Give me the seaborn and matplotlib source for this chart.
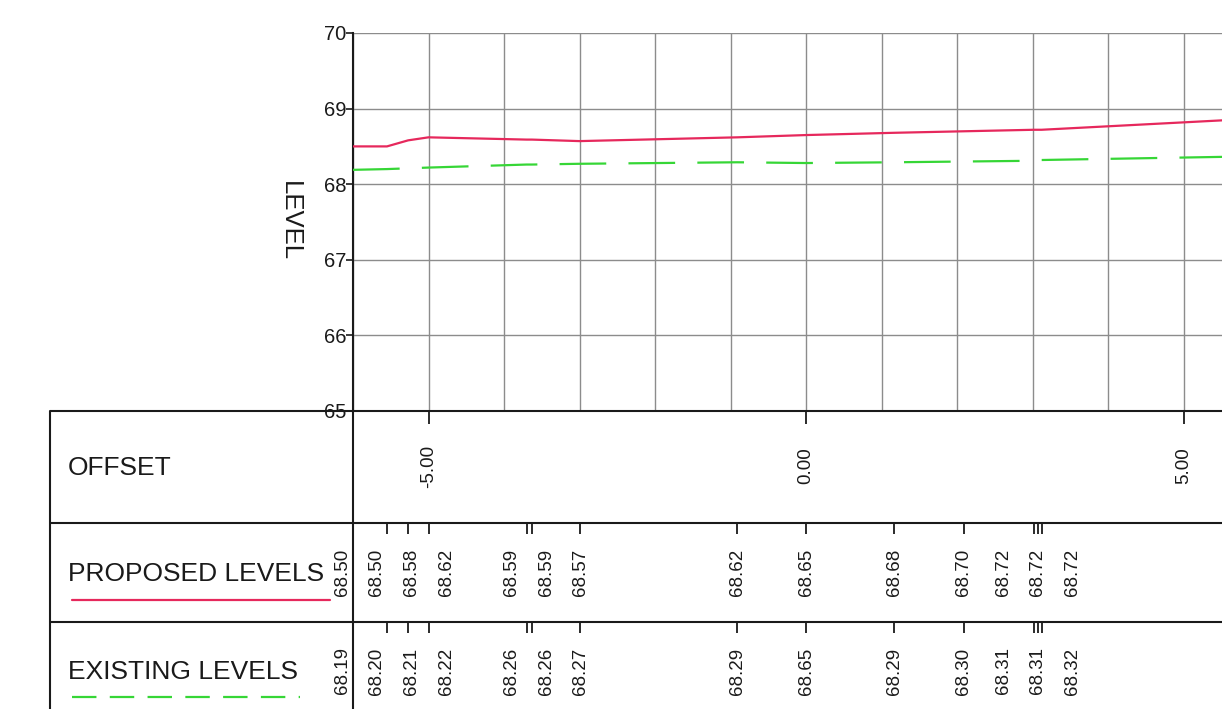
import numpy as np
import pandas as pd
import matplotlib
matplotlib.use("Agg")
import matplotlib.pyplot as plt
import matplotlib.transforms as mtrans
import seaborn as sns

# ---------------- data ----------------
offsets = [-6.0, -5.55, -5.27, -5.0, -3.70, -3.63, -3.0, -0.91, 0.0,
           1.17, 2.09, 3.02, 3.07, 3.12, 6.0]
proposed_levels = [68.50, 68.50, 68.58, 68.62, 68.59, 68.59, 68.57, 68.62, 68.65,
                   68.68, 68.70, 68.72, 68.72, 68.72, 68.87]
existing_levels = [68.19, 68.20, 68.21, 68.22, 68.26, 68.26, 68.27, 68.29, 68.28,
                   68.29, 68.30, 68.31, 68.31, 68.32, 68.37]
proposed_labels = ["68.50", "68.50", "68.58", "68.62", "68.59", "68.59", "68.57", "68.62",
                   "68.65", "68.68", "68.70", "68.72", "68.72", "68.72", "68.87"]
existing_labels = ["68.19", "68.20", "68.21", "68.22", "68.26", "68.26", "68.27", "68.29",
                   "68.65", "68.29", "68.30", "68.31", "68.31", "68.32", "68.37"]
offset_ticks = [-5.0, 0.0, 5.0]
offset_labels = ["-5.00", "0.00", "5.00"]
level_ticks = [65, 66, 67, 68, 69, 70]
row_titles = ["OFFSET", "PROPOSED LEVELS", "EXISTING LEVELS"]
y_title = "LEVEL"

RED = "#e6285c"
GREEN = "#36d636"
INK = "#1a1a1a"

sns.set_style("white")
plt.rcParams["font.family"] = ["Liberation Sans", "DejaVu Sans"]

W, H = 1222, 709
fig = plt.figure(figsize=(W / 100, H / 100), dpi=100)
fig.patch.set_facecolor("white")

# chart area (pixel layout)
L, T, B = 353, 33, 411
ax = fig.add_axes([L / W, 1 - B / H, (W - L) / W, (B - T) / H])

df = pd.DataFrame({"offset": offsets, "proposed": proposed_levels,
                   "existing": existing_levels})

sns.lineplot(data=df, x="offset", y="proposed", ax=ax, color=RED, lw=1.6,
             estimator=None, sort=True, zorder=3)
sns.lineplot(data=df, x="offset", y="existing", ax=ax, color=GREEN, lw=1.6,
             estimator=None, sort=True, linestyle=(0, (21, 10)), zorder=3)

x_min = -6.0
x_max = x_min + (W - L) / 75.5
ax.set_xticks(np.arange(-6, 6, 1))
ax.set_xticklabels([])
ax.set_yticks(level_ticks)
ax.set_yticklabels([str(v) for v in level_ticks])
ax.set_xlim(x_min, x_max)
ax.set_ylim(min(level_ticks), max(level_ticks))
ax.tick_params(axis="x", length=0)
ax.tick_params(axis="y", length=5, width=1.2, color=INK, labelsize=14.5,
               labelcolor=INK, pad=0, direction="out", left=True)
ax.grid(True, color="#8c8c8c", lw=1.0)
ax.set_xlabel("")
ax.set_ylabel("")
for s in ["top", "right", "bottom"]:
    ax.spines[s].set_visible(False)
ax.spines["left"].set_color(INK)
ax.spines["left"].set_linewidth(1.5)

# overlay in pixel coordinates for the table
ov = fig.add_axes([0, 0, 1, 1], zorder=5)
ov.patch.set_alpha(0)
ov.set_xlim(0, W)
ov.set_ylim(H, 0)
ov.axis("off")
blend = mtrans.blended_transform_factory(ax.transData, ov.transData)

# y title
ov.text(290, 221, y_title, rotation=270, ha="center", va="center",
        fontsize=18.5, color=INK)

# table frame
row_lines = [411, 523, 622]
for yy in row_lines:
    ov.plot([50, W], [yy, yy], color=INK, lw=1.5, solid_capstyle="butt")
ov.plot([50, 50], [411, H], color=INK, lw=1.5)
ov.plot([L, L], [411, H], color=INK, lw=1.5)

# row titles
row_centers = [468, 574, 672]
for t, yc in zip(row_titles, row_centers):
    ov.text(68, yc, t, ha="left", va="center", fontsize=19, color=INK)
# legend samples
ov.plot([72, 330], [600, 600], color=RED, lw=1.6)
ov.plot([72, 300], [697, 697], color=GREEN, lw=1.6, linestyle=(0, (11, 6)))


def spread(xs, gap):
    groups = [[x] for x in xs]

    def pos(g):
        c = np.mean(g)
        n = len(g)
        return [c + (i - (n - 1) / 2) * gap for i in range(n)]

    changed = True
    while changed:
        changed = False
        for i in range(len(groups) - 1):
            if pos(groups[i + 1])[0] - pos(groups[i])[-1] < gap - 1e-9:
                groups[i] = groups[i] + groups[i + 1]
                del groups[i + 1]
                changed = True
                break
    out = []
    for g in groups:
        out += pos(g)
    return out


# offset row
for xv, lab in zip(offset_ticks, offset_labels):
    if x_min <= xv <= x_max:
        ov.vlines(xv, 411, 424, transform=blend, color=INK, lw=1.3)
        ov.text(xv, 466, lab, transform=blend, rotation=90, ha="center",
                va="center", fontsize=13.5, color=INK)

# level rows
vis = [i for i, o in enumerate(offsets) if x_min - 1e-9 <= o <= x_max]
vis_off = [offsets[i] for i in vis]
lab_x = spread(vis_off, 0.46)
for row_top, yc, labels in [(523, 572, proposed_labels), (622, 671, existing_labels)]:
    for k, i in enumerate(vis):
        if offsets[i] > x_min + 1e-9:
            ov.vlines(offsets[i], row_top, row_top + 11, transform=blend,
                      color=INK, lw=1.3)
        ov.text(lab_x[k], yc, labels[i], transform=blend, rotation=90,
                ha="center", va="center", fontsize=13.5, color=INK)

fig.savefig("out.png", dpi=100)
